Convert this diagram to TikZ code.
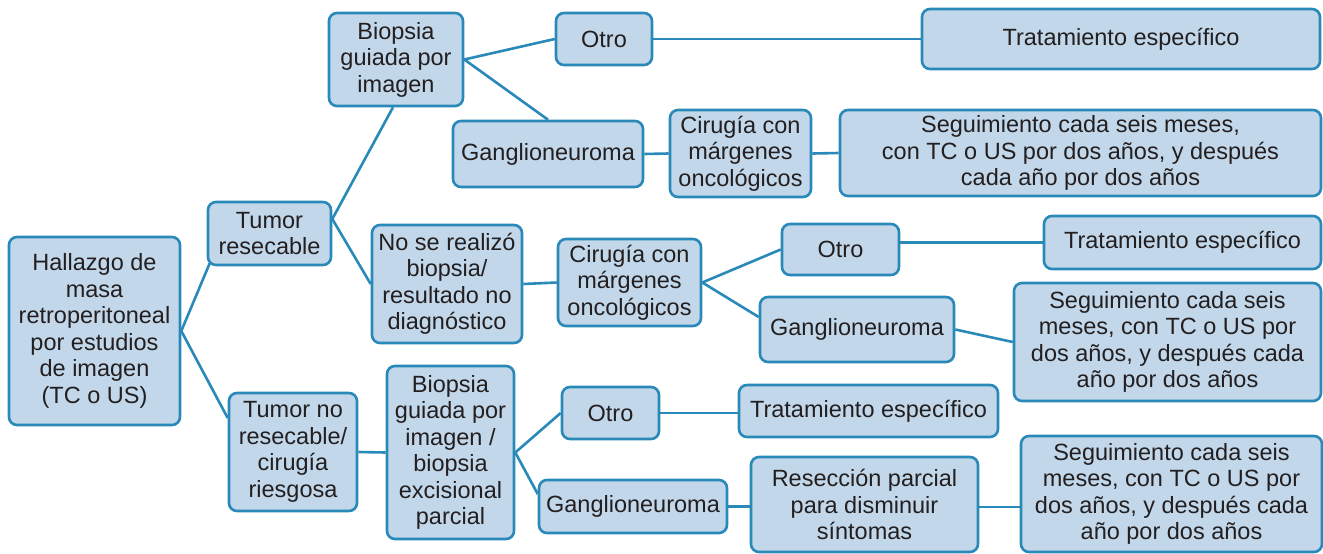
\documentclass[tikz,border=0pt]{standalone}
\usepackage{fontspec}
\setmainfont{Liberation Sans}
\usetikzlibrary{backgrounds,calc}
\definecolor{boxfill}{RGB}{194,215,234}
\definecolor{boxline}{RGB}{41,137,184}
\definecolor{txt}{RGB}{35,31,32}
\tikzset{
  box/.style={draw=boxline, fill=boxfill, line width=2.6pt, rounded corners=8pt,
    inner sep=0pt, align=center, text=txt,
    font=\fontsize{23.5}{26.5}\selectfont},
  link/.style={draw=boxline, line width=2.6pt}
}
\begin{document}
\begin{tikzpicture}[x=1pt,y=-1pt]
\useasboundingbox (0,0) rectangle (1323,554);
\node[box, minimum width=171, minimum height=188] (root) at (94.5,331) {Hallazgo de\\masa\\retroperitoneal\\por estudios\\de imagen\\(TC o US)};
\node[box, minimum width=123, minimum height=63] (tr) at (269.5,233.5) {Tumor\\resecable};
\node[box, minimum width=134, minimum height=93] (b1) at (396,59.5) {Biopsia\\guiada por\\imagen};
\node[box, minimum width=150, minimum height=118] (nsr) at (447,284) {No se realizó\\biopsia/\\resultado no\\diagnóstico};
\node[box, minimum width=128, minimum height=118] (tnr) at (293,452) {Tumor no\\resecable/\\cirugía\\riesgosa};
\node[box, minimum width=127, minimum height=173] (b2) at (450.5,452.5) {Biopsia\\guiada por\\imagen /\\biopsia\\excisional\\parcial};
\node[box, minimum width=96, minimum height=52] (otro1) at (604,39) {Otro};
\node[box, minimum width=190, minimum height=66] (gang1) at (548,154) {Ganglioneuroma};
\node[box, minimum width=141, minimum height=87] (cir1) at (740.5,153.5) {Cirugía con\\márgenes\\oncológicos};
\node[box, minimum width=481, minimum height=86] (seg1) at (1080.5,153) {Seguimiento cada seis meses,\\con TC o US por dos años, y después\\cada año por dos años};
\node[box, minimum width=398, minimum height=60] (trat1) at (1121,39) {Tratamiento específico};
\node[box, minimum width=143, minimum height=87] (cir2) at (629.5,282.5) {Cirugía con\\márgenes\\oncológicos};
\node[box, minimum width=117, minimum height=51] (otro2) at (840.5,249.5) {Otro};
\node[box, minimum width=194, minimum height=65] (gang2) at (857,329.5) {Ganglioneuroma};
\node[box, minimum width=277, minimum height=53] (trat2) at (1182.5,242.5) {Tratamiento específico};
\node[box, minimum width=307, minimum height=118] (seg2) at (1167.5,342) {Seguimiento cada seis\\meses, con TC o US por\\dos años, y después cada\\año por dos años};
\node[box, minimum width=97, minimum height=52] (otro3) at (610.5,413) {Otro};
\node[box, minimum width=259, minimum height=52] (trat3) at (868.5,411) {Tratamiento específico};
\node[box, minimum width=188, minimum height=53] (gang3) at (633,506.5) {Ganglioneuroma};
\node[box, minimum width=227, minimum height=95] (res) at (864.5,504.5) {Resección parcial\\para disminuir\\síntomas};
\node[box, minimum width=301, minimum height=116] (seg3) at (1171.5,494) {Seguimiento cada seis\\meses, con TC o US por\\dos años, y después cada\\año por dos años};
\begin{pgfonlayer}{background}
\draw[link] (root.east) -- ([xshift=3pt,yshift=3pt]tr.south west);
\draw[link] (root.east) -- ([yshift=34pt]tnr.west);
\draw[link] ([yshift=14.5pt]tr.east) -- ([xshift=-3pt]b1.south);
\draw[link] ([yshift=14.5pt]tr.east) -- (nsr.west);
\draw[link] (b1.east) -- (otro1.west);
\draw[link] (b1.east) -- (gang1.north);
\draw[link] (otro1.east) -- (trat1.west);
\draw[link] (gang1.east) -- (cir1.west);
\draw[link] (cir1.east) -- (seg1.west);
\draw[link] (nsr.east) -- (cir2.west);
\draw[link] (cir2.east) -- (otro2.west);
\draw[link] (cir2.east) -- ([yshift=12.5pt]gang2.west);
\draw[link] (otro2.east |- trat2.west) -- (trat2.west);
\draw[link] (gang2.east) -- (seg2.west);
\draw[link] (tnr.east) -- (b2.west);
\draw[link] (b2.east) -- (otro3.west);
\draw[link] (b2.east) -- ([yshift=12.5pt]gang3.west);
\draw[link] (otro3.east) -- (otro3.east -| trat3.west);
\draw[link] (gang3.east) -- (gang3.east -| res.west);
\draw[link] ([yshift=-2.5pt]res.east) -- ([yshift=-2.5pt]res.east -| seg3.west);
\end{pgfonlayer}
\end{tikzpicture}
\end{document}
